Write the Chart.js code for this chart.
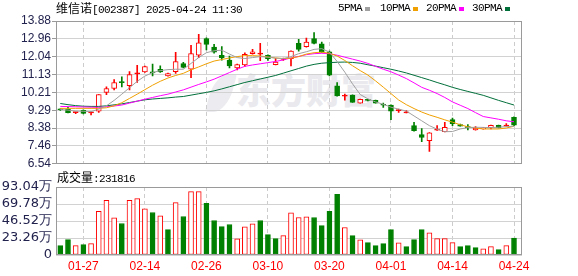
<!DOCTYPE html>
<html><head><meta charset="utf-8">
<script src="https://cdn.jsdelivr.net/npm/chart.js@4.4.1/dist/chart.umd.min.js"></script>
<style>
html,body{margin:0;padding:0;background:#fff}
body{width:578px;height:276px;overflow:hidden;position:relative}
canvas{position:absolute;left:0;z-index:1}
#c1{top:0}
#c2{top:172px}
.t{position:absolute;white-space:nowrap;line-height:16px;height:16px;z-index:2;color:#000}
.cjk{font-family:'Noto Sans CJK SC',sans-serif;font-size:12px}
.asc{font-family:'Liberation Mono',monospace;font-size:11px;letter-spacing:-0.6px}
.sq{position:absolute;width:5px;height:4px;top:7px;z-index:2}
#wm{position:absolute;left:236px;top:68px;font-family:'Noto Sans CJK SC',sans-serif;font-weight:900;font-size:35px;line-height:42px;color:#e9e9ee;z-index:0;letter-spacing:0px}
#leaf{position:absolute;left:210px;top:74px;width:22px;height:38px;border-radius:60% 10% 60% 10%;background:#ececf0;transform:skewX(-15deg);z-index:0}
</style></head>
<body>
<div id="leaf"></div>
<div id="wm">东方财富</div>
<canvas id="c1" width="578" height="172"></canvas>
<canvas id="c2" width="578" height="104"></canvas>
<div class="t" style="left:56px;top:0px"><span class="cjk">维信诺</span><span class="asc">[002387] 2025-04-24 11:30</span></div>
<div class="t asc" style="left:338px;top:0px">5PMA</div><div class="sq" style="left:365px;background:#a0a0a0"></div>
<div class="t asc" style="left:380px;top:0px">10PMA</div><div class="sq" style="left:413px;background:#f0a000"></div>
<div class="t asc" style="left:426px;top:0px">20PMA</div><div class="sq" style="left:459px;background:#ff00ff"></div>
<div class="t asc" style="left:472px;top:0px">30PMA</div><div class="sq" style="left:505px;background:#006f3a"></div>
<div class="t" style="left:57px;top:169px"><span class="cjk">成交量</span><span class="asc">:231816</span></div>
<script>
// ---- data ----
const dates = ['01-22','01-23','01-24','01-27','02-05','02-06','02-07','02-10','02-11','02-12','02-13','02-14','02-17','02-18','02-19','02-20','02-21','02-24','02-25','02-26','02-27','02-28','03-03','03-04','03-05','03-06','03-07','03-10','03-11','03-12','03-13','03-14','03-17','03-18','03-19','03-20','03-21','03-24','03-25','03-26','03-27','03-28','03-31','04-01','04-02','04-03','04-07','04-08','04-09','04-10','04-11','04-14','04-15','04-16','04-17','04-18','04-21','04-22','04-23','04-24'];
const shownDates = ['01-27','02-14','02-26','03-10','03-20','04-01','04-14','04-24'];
const open  = [9.33,9.34,9.17,9.29,9.16,9.25,10.21,10.41,10.74,10.55,11.16,11.26,11.23,11.40,11.06,11.28,11.69,11.40,12.13,12.98,12.54,12.12,11.87,11.47,11.62,12.20,12.18,12.12,11.64,11.90,11.95,12.73,12.56,12.97,12.71,12.30,10.55,10.01,10.07,9.66,9.82,9.80,9.57,9.56,9.27,9.16,8.50,8.04,7.73,8.27,8.19,8.81,8.56,8.43,8.28,8.33,8.40,8.52,8.48,8.93];
const high  = [9.37,9.44,9.20,9.31,9.22,10.10,10.49,10.87,11.01,11.28,11.60,11.56,11.66,11.57,11.20,12.27,11.76,12.63,13.19,13.02,12.68,12.56,12.08,11.66,12.25,12.42,12.73,12.14,11.96,11.98,12.35,12.94,13.00,13.28,12.80,12.33,10.71,10.12,10.08,9.87,9.85,9.81,9.66,9.57,9.35,9.27,8.67,8.35,8.15,8.50,8.67,8.89,8.58,8.55,8.45,8.40,8.53,8.53,8.61,8.95];
const low   = [9.28,9.16,9.12,9.11,9.05,9.18,10.09,10.34,10.49,10.34,10.72,11.24,11.06,11.24,11.05,11.18,11.47,10.97,11.99,12.39,12.23,11.87,11.47,11.36,11.55,12.18,11.84,11.86,11.62,11.86,11.57,12.33,12.54,12.70,12.26,11.06,10.01,9.81,9.69,9.65,9.77,9.65,9.44,8.81,9.18,9.16,8.22,7.68,7.17,8.26,8.18,8.50,8.47,8.28,8.27,8.32,8.33,8.39,8.47,8.50];
const close = [9.32,9.17,9.19,9.13,9.19,10.10,10.41,10.72,10.71,11.13,11.19,11.54,11.21,11.26,11.18,11.79,11.49,12.20,12.76,12.68,12.28,11.98,11.57,11.64,12.17,12.30,12.21,11.95,11.77,11.95,12.33,12.42,12.80,12.73,12.28,11.09,10.03,10.04,9.70,9.86,9.80,9.66,9.55,9.25,9.29,9.17,8.24,7.89,8.13,8.28,8.41,8.60,8.48,8.40,8.38,8.39,8.52,8.40,8.53,8.52];
const ma5  = [9.33,9.30,9.25,9.24,9.22,9.35,9.52,9.80,10.12,10.45,10.78,11.05,11.23,11.33,11.38,11.40,11.40,11.70,12.00,12.25,12.35,12.38,12.18,12.00,11.95,12.00,12.05,12.02,11.97,11.95,12.05,12.20,12.30,12.42,12.46,12.28,11.80,11.25,10.65,10.10,9.88,9.72,9.60,9.45,9.35,9.25,9.00,8.75,8.50,8.32,8.19,8.20,8.33,8.40,8.42,8.41,8.40,8.42,8.45,8.47];
const ma10 = [9.39,9.39,9.39,9.39,9.39,9.39,9.42,9.52,9.68,9.90,10.12,10.35,10.58,10.78,10.95,11.08,11.19,11.37,11.52,11.68,11.82,11.90,11.98,12.05,12.10,12.10,12.08,12.03,11.98,11.95,11.97,12.05,12.18,12.25,12.28,12.22,12.08,11.85,11.58,11.33,11.10,10.80,10.48,10.15,9.82,9.58,9.38,9.20,9.05,8.93,8.80,8.68,8.55,8.44,8.38,8.33,8.33,8.33,8.38,8.47];
const ma20 = [9.49,9.48,9.47,9.46,9.45,9.44,9.47,9.51,9.56,9.66,9.76,9.86,9.95,10.04,10.12,10.23,10.34,10.48,10.62,10.75,10.89,11.06,11.23,11.40,11.55,11.62,11.68,11.74,11.80,11.88,11.98,12.06,12.15,12.20,12.22,12.20,12.12,12.02,11.92,11.82,11.70,11.55,11.40,11.27,11.10,10.92,10.70,10.47,10.32,10.15,9.95,9.72,9.55,9.38,9.17,8.97,8.90,8.83,8.75,8.70];
const ma30 = [9.64,9.58,9.53,9.50,9.49,9.49,9.52,9.57,9.62,9.69,9.76,9.83,9.87,9.90,9.93,9.97,10.00,10.07,10.14,10.21,10.29,10.39,10.50,10.61,10.72,10.81,10.90,10.99,11.08,11.20,11.32,11.44,11.56,11.65,11.71,11.74,11.76,11.77,11.75,11.71,11.63,11.56,11.48,11.40,11.31,11.21,11.09,10.97,10.85,10.72,10.60,10.47,10.36,10.26,10.16,10.06,9.93,9.80,9.68,9.56];
const vol  = [12.8,21.1,12.8,14.2,15.6,59.6,74.7,50.9,43.1,74.7,77.1,63.3,58.2,53.7,34.8,71.6,52.7,86.7,86.7,70.6,47.2,38.9,41.7,22.0,38.5,42.7,47.2,27.9,22.4,26.6,57.8,51.3,52.3,51.3,40.3,59.6,83.0,37.6,26.6,20.6,16.9,12.8,15.6,34.8,16.5,11.4,21.1,34.8,30.3,22.4,22.4,16.9,11.4,12.8,10.0,8.3,11.4,7.3,12.8,23.18];
const volUp = [0,0,1,0,1,1,1,1,0,1, 1,1,0,1,0,1,0,1,1,0, 0,0,0,1,1,1,0,0,0,1, 1,1,1,0,0,0,0,1,0,1, 0,0,0,0,1,0,0,0,1,1, 1,1,0,0,0,1,1,0,1,0];
const priceTicks = [6.54,7.46,8.38,9.29,10.21,11.13,12.04,12.96,13.88];
const priceTickLabels = ['6.54','7.46','8.38','9.29','10.21','11.13','12.04','12.96','13.88'];
const volTicks = [0,23.26,46.52,69.78,93.04];
const volTickLabels = ['0','23.26万','46.52万','69.78万','93.04万'];

// ---- styles ----
const RED='#ff0000', GREEN='#008000';
const xIdx = shownDates.map(d=>dates.indexOf(d));
const XMIN=-0.56, XMAX=60.04;
const frame = {id:'frame', afterDraw(c){const a=c.chartArea,x=c.ctx;x.save();x.strokeStyle='#9a9a9a';x.lineWidth=1;
  x.strokeRect(Math.round(a.left)+0.5,Math.round(a.top)+0.5,Math.round(a.right-a.left)-1,Math.round(a.bottom-a.top)-1);x.restore();}};
const isUp = i => close[i] >= open[i];
const line = (arr,color)=>({type:'line',data:arr.map((v,i)=>({x:i,y:v})),borderColor:color,borderWidth:1,pointRadius:0,fill:false,tension:0});

new Chart(document.getElementById('c1'),{
  type:'bar',
  data:{datasets:[
    line(ma5,'#a0a0a0'),
    line(ma10,'#f0a000'),
    line(ma20,'#ff00ff'),
    line(ma30,'#006f3a'),
    {type:'bar',grouped:false,barThickness:5,borderWidth:1,borderSkipped:false,minBarLength:1,
     data:dates.map((d,i)=>({x:i,y:[open[i],close[i]]})),
     backgroundColor:c=>{const i=c.dataIndex;return isUp(i)?(Math.abs(close[i]-open[i])<0.05?RED:'#ffffff'):GREEN;},
     borderColor:c=>isUp(c.dataIndex)?RED:GREEN},
    {type:'bar',grouped:false,barThickness:1,borderWidth:0,
     data:dates.map((d,i)=>({x:i,y:[low[i],high[i]]})),
     backgroundColor:c=>isUp(c.dataIndex)?RED:GREEN}
  ]},
  options:{responsive:false,animation:false,events:[],devicePixelRatio:1,
    layout:{padding:{left:0,right:56,top:21,bottom:7}},
    plugins:{legend:{display:false},tooltip:{enabled:false}},
    scales:{
      x:{type:'linear',min:XMIN,max:XMAX,offset:false,
         grid:{offset:false,color:'#cccccc',lineWidth:1,drawTicks:false},
         border:{display:false,dash:[4,3]},ticks:{display:false},
         afterBuildTicks:s=>{s.ticks=xIdx.map(v=>({value:v}));},
         afterFit:s=>{s.height=0;}},
      y:{type:'linear',min:6.54,max:13.88,
         grid:{color:'#d2d2d2',tickColor:'#9a9a9a',tickLength:4,drawTicks:true},
         border:{display:false},
         ticks:{padding:1,autoSkip:false,color:'#22224e',font:{family:'Liberation Sans',size:12},callback:(v,i)=>priceTickLabels[i]},
         afterBuildTicks:s=>{s.ticks=priceTicks.map(v=>({value:v}));},
         afterFit:s=>{s.width=56;}}
    }},
  plugins:[frame]
});

new Chart(document.getElementById('c2'),{
  type:'bar',
  data:{datasets:[
    {grouped:false,barThickness:5,borderWidth:1,borderSkipped:false,
     data:vol.map((v,i)=>({x:i,y:v})),
     backgroundColor:c=>volUp[c.dataIndex]?'#ffffff':GREEN,
     borderColor:c=>volUp[c.dataIndex]?RED:GREEN}
  ]},
  options:{responsive:false,animation:false,events:[],devicePixelRatio:1,
    layout:{padding:{left:0,right:56,top:15,bottom:0}},
    plugins:{legend:{display:false},tooltip:{enabled:false}},
    scales:{
      x:{type:'linear',min:XMIN,max:XMAX,offset:false,
         grid:{offset:false,color:'#cccccc',lineWidth:1,drawTicks:false},
         border:{display:false,dash:[4,3]},
         ticks:{color:RED,font:{family:'Liberation Sans',size:12},padding:4,autoSkip:false,maxRotation:0,callback:v=>dates[v]},
         afterBuildTicks:s=>{s.ticks=xIdx.map(v=>({value:v}));},
         afterFit:s=>{s.height=21;}},
      y:{type:'linear',min:0,max:93.04,
         grid:{color:'#d2d2d2',drawTicks:false},
         border:{display:false},
         ticks:{padding:4,autoSkip:false,color:'#22224e',font:{family:'DejaVu Sans',size:13},callback:(v,i)=>volTickLabels[i]},
         afterBuildTicks:s=>{s.ticks=volTicks.map(v=>({value:v}));},
         afterFit:s=>{s.width=56;}}
    }},
  plugins:[frame]
});
</script>
</body></html>
